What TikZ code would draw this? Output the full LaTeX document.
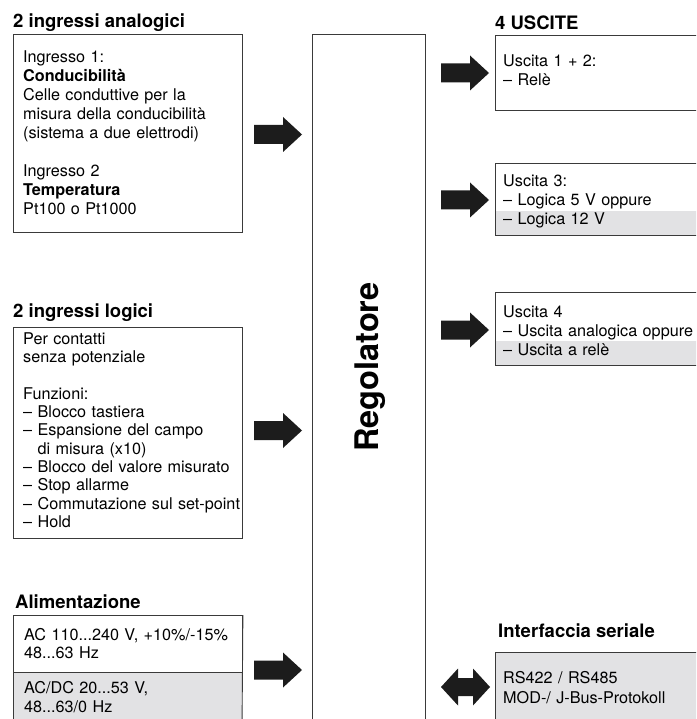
\documentclass[tikz,border=0pt]{standalone}
\usepackage{fontspec}
\setmainfont{TeX Gyre Heros}
\definecolor{lineC}{HTML}{3A3A3A}
\definecolor{greyC}{HTML}{E2E2E4}
\definecolor{arrowC}{HTML}{1C1C1C}
\begin{document}
\begin{tikzpicture}[x=1pt,y=-1pt,
  box/.style={draw=lineC, line width=0.9pt, inner sep=0pt, anchor=north west},
  greybox/.style={fill=greyC, draw=none, inner sep=0pt, anchor=north west},
  title/.style={anchor=base west, inner sep=0pt, font=\fontsize{18.5}{21}\selectfont\bfseries},
  body/.style={anchor=base west, inner sep=0pt, align=left, text width=#1},
  rarrow/.pic={\fill[arrowC] (0,-9.5) -- (29,-9.5) -- (29,-17.5) -- (48,0) -- (29,17.5) -- (29,9.5) -- (0,9.5) -- cycle;},
  darrow/.pic={\fill[arrowC] (0,0) -- (17,-18.5) -- (17,-9) -- (32,-9) -- (32,-18.5) -- (49,0) -- (32,18.5) -- (32,9) -- (17,9) -- (17,18.5) -- cycle;}
]
\clip (0,0) rectangle (696,719);
\fill[white] (0,0) rectangle (696,719);

% ---------- left column ----------
\node[title] (t1) at (13,28) {2 ingressi analogici};
\node[box, minimum width=229pt, minimum height=198pt] (ana) at (13,34) {};
\node[body=215pt, font=\fontsize{16.2}{19}\selectfont] (anatxt) at (23,63)
 {Ingresso 1:\\ \textbf{Conducibilità}\\ Celle conduttive per la\\ misura della conducibilità\\ (sistema a due elettrodi)\\[19pt]
  Ingresso 2\\ \textbf{Temperatura}\\ Pt100 o Pt1000};

\node[title] (t2) at (13,317) {2 ingressi logici};
\node[box, minimum width=229pt, minimum height=211pt] (log) at (13,327) {};
\node[body=225pt, font=\fontsize{16.2}{18.35}\selectfont] (logtxt) at (23,344)
 {Per contatti\\ senza potenziale\\[18.35pt]
  Funzioni:\\ – Blocco tastiera\\ – Espansione del campo\\ \hphantom{– }di misura (x10)\\ – Blocco del valore misurato\\
  – Stop allarme\\ – Commutazione sul set-point\\ – Hold};

\node[title] (t3) at (15,608) {Alimentazione};
\node[greybox, minimum width=229pt, minimum height=60pt] (alg) at (13,672) {};
\node[box, minimum width=229pt, minimum height=57pt] (al1) at (13,615) {};
\draw[lineC, line width=0.9pt] (al1.north east) -- (13+229,730);
\draw[lineC, line width=0.9pt] (al1.north west) -- (13,730);
\node[body=215pt, font=\fontsize{16.2}{18}\selectfont] (al1txt) at (24,640)
 {AC 110...240 V, +10\%/-15\%\\ 48...63 Hz};
\node[body=215pt, font=\fontsize{16.2}{19}\selectfont] (al2txt) at (24,693)
 {AC/DC 20...53 V,\\ 48...63/0 Hz};

% ---------- central box ----------
\node[box, minimum width=113pt, minimum height=700pt] (reg) at (312,34) {};
\node[rotate=90, inner sep=0pt, font=\fontsize{32.5}{35}\selectfont\bfseries] (regtxt) at (370,367) {Regolatore};

% ---------- input arrows ----------
\pic (a1) at (254,134.5) {rarrow};
\pic (a2) at (254,430.5) {rarrow};
\pic (a3) at (254,670) {rarrow};

% ---------- right column ----------
\node[title] (t4) at (495,30) {4 USCITE};
\node[box, minimum width=210pt, minimum height=75pt] (u1) at (495,35) {};
\node[body=190pt, font=\fontsize{16.2}{19}\selectfont] (u1txt) at (503,67)
 {Uscita 1 + 2:\\ – Relè};

\node[greybox, minimum width=210pt, minimum height=24pt] (u2g) at (495,211) {};
\node[box, minimum width=210pt, minimum height=72pt] (u2) at (495,163) {};
\node[body=190pt, font=\fontsize{16.2}{18.5}\selectfont] (u2txt) at (503,187)
 {Uscita 3:\\ – Logica 5 V oppure\\ – Logica 12 V};

\node[greybox, minimum width=210pt, minimum height=24pt] (u3g) at (495,341) {};
\node[box, minimum width=210pt, minimum height=73pt] (u3) at (495,292) {};
\node[body=200pt, font=\fontsize{16.2}{19}\selectfont] (u3txt) at (503,317)
 {Uscita 4\\ – Uscita analogica oppure\\ – Uscita a relè};

\node[title] (t5) at (498,637) {Interfaccia seriale};
\node[box, fill=greyC, minimum width=210pt, minimum height=80pt] (ser) at (495,652) {};
\node[body=190pt, font=\fontsize{16.2}{20}\selectfont] (sertxt) at (503,683)
 {RS422 / RS485\\ MOD-/ J-Bus-Protokoll};

% ---------- output arrows ----------
\pic (b1) at (441,73) {rarrow};
\pic (b2) at (441,200) {rarrow};
\pic (b3) at (441,330) {rarrow};
\pic (b4) at (441,687) {darrow};
\end{tikzpicture}
\end{document}
